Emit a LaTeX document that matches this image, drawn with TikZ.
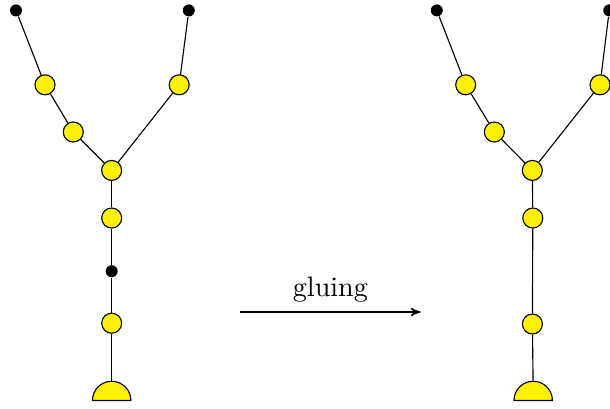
\documentclass[tikz,border=0pt]{standalone}
\usetikzlibrary{arrows,positioning,shapes.geometric}
\begin{document}
\begin{tikzpicture}[>=stealth',thin]
	  \tikzstyle{vert}=[circle,draw=black,fill=yellow,inner sep=0pt,minimum size=0.25cm]
	  \tikzstyle{leaf}=[circle,fill=black,inner sep=0pt,minimum size=0.15cm]
	  \tikzstyle{rootvert}=[semicircle,draw=black,fill=yellow,inner sep=0pt,minimum width=0.48cm,anchor=chord center]
	  \useasboundingbox (0,0) rectangle (7.625,5.1);

	  % tree before gluing
	  \node[leaf]     (l-tl) at (0.2,4.97)    {};
	  \node[vert]     (l-a1) at (0.5625,4.04) {};
	  \node[vert]     (l-a2) at (0.916,3.45)  {};
	  \node[vert]     (l-j)  at (1.396,2.97)  {};
	  \node[vert]     (l-b1) at (2.24,4.04)   {};
	  \node[leaf]     (l-tr) at (2.36,4.97)   {};
	  \node[vert]     (l-c1) at (1.396,2.375) {};
	  \node[leaf]     (l-d)  at (1.396,1.71)  {};
	  \node[vert]     (l-c2) at (1.396,1.06)  {};
	  \node[rootvert] (l-r)  at (1.396,0.0875) {};

	  \path[draw] (l-tl) edge (l-a1)
	  (l-a1) edge (l-a2)
	  (l-a2) edge (l-j)
	  (l-tr) edge (l-b1)
	  (l-b1) edge (l-j)
	  (l-j) edge (l-c1)
	  (l-c1) edge (l-d)
	  (l-d) edge (l-c2)
	  (l-c2) edge (l-r);

	  % tree after gluing
	  \node[leaf]     (r-tl) at (5.46,4.97)   {};
	  \node[vert]     (r-a1) at (5.821,4.04)  {};
	  \node[vert]     (r-a2) at (6.179,3.45)  {};
	  \node[vert]     (r-j)  at (6.654,2.97)  {};
	  \node[vert]     (r-b1) at (7.5,4.04)    {};
	  \node[leaf]     (r-tr) at (7.616,4.97)  {};
	  \node[vert]     (r-c1) at (6.66,2.375)  {};
	  \node[vert]     (r-c2) at (6.655,1.05)  {};
	  \node[rootvert] (r-r)  at (6.665,0.0875) {};

	  \path[draw] (r-tl) edge (r-a1)
	  (r-a1) edge (r-a2)
	  (r-a2) edge (r-j)
	  (r-tr) edge (r-b1)
	  (r-b1) edge (r-j)
	  (r-j) edge (r-c1)
	  (r-c1) edge (r-c2)
	  (r-c2) edge (r-r);

	  % the arrow
	  \coordinate (start) at (3.0,1.2);
	  \coordinate (end)   at (5.26,1.2);
	  \draw[->] (start) -- node[above] {gluing} (end);
	\end{tikzpicture}
\end{document}
